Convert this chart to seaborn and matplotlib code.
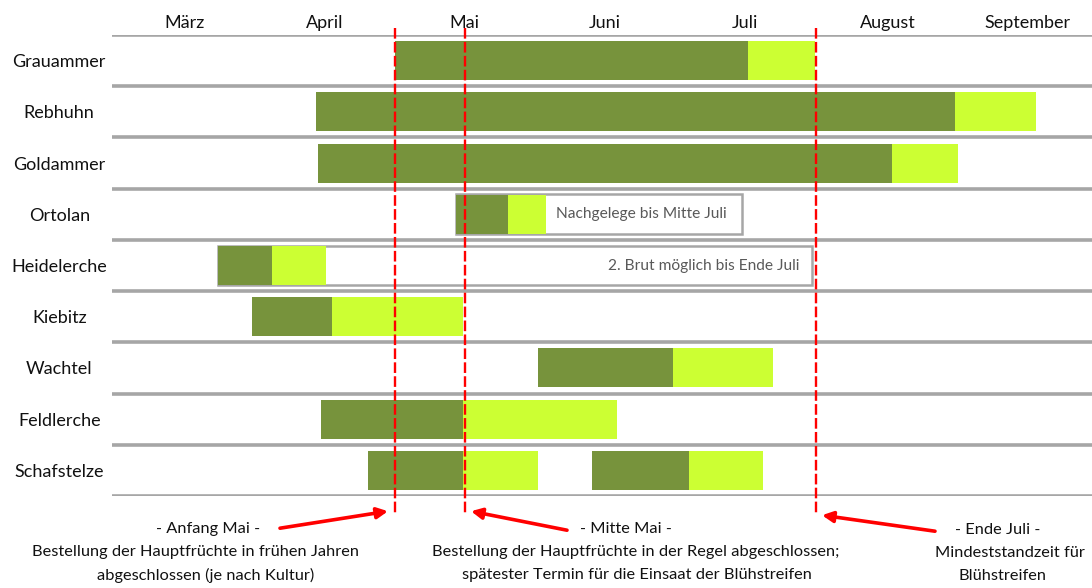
import matplotlib
matplotlib.use("Agg")
import matplotlib.pyplot as plt
import numpy as np
import seaborn as sns
from matplotlib.patches import Rectangle

sns.set_theme(style="white")
plt.rcParams["font.family"] = ["Lato", "DejaVu Sans"]

# ── Data (x in months, 0 = 1. März, 7 = 30. September) ───────────────────
birds = ["Grauammer", "Rebhuhn", "Goldammer", "Ortolan", "Heidelerche",
         "Kiebitz", "Wachtel", "Feldlerche", "Schafstelze"]
brut_start = [2.02, 1.46, 1.47, 2.46, 0.76, 1.00, 3.04, 1.49, 1.83]
brut_end = [4.54, 6.02, 5.57, 2.83, 1.14, 1.57, 4.01, 2.51, 2.51]
fuehrung_end = [5.02, 6.60, 6.04, 3.10, 1.53, 2.51, 4.72, 3.61, 3.04]

# second brood Schafstelze
second_row = "Schafstelze"
second_brood = [3.43, 4.12, 4.65]

# outlined boxes: bird, box end, label
box_rows = ["Ortolan", "Heidelerche"]
box_end = [4.50, 5.00]
box_text = ["Nachgelege bis Mitte Juli", "2. Brut möglich bis Ende Juli"]

months = ["März", "April", "Mai", "Juni", "Juli", "August", "September"]
month_pos = [0.52, 1.52, 2.52, 3.52, 4.52, 5.54, 6.54]

markers = [2.02, 2.52, 5.03]  # Anfang Mai, Mitte Mai, Ende Juli

DARK = "#77933C"
LIGHT = "#CCFF33"
GRID = "#A6A6A6"
TXT = "#111111"

W, H = 1092, 588
fig = plt.figure(figsize=(W / 100, H / 100), dpi=100)
ax = fig.add_axes([112 / W, 1 - 496 / H, 980 / W, 461 / H])

ypos = np.arange(len(birds))
bar_h = 0.76

# row separators
ax.hlines(np.arange(-0.5, len(birds)), 0, 7, color=GRID, lw=2.6, zorder=1)

# outlined boxes behind the bars
for name, end, txt in zip(box_rows, box_end, box_text):
    i = birds.index(name)
    ax.add_patch(Rectangle((brut_start[i], i - 0.39), end - brut_start[i], 0.78,
                           facecolor="white", edgecolor=GRID, lw=1.8, zorder=2))
    if name == "Ortolan":
        ax.text(fuehrung_end[i] + 0.075, i, txt, ha="left", va="center",
                fontsize=11.2, color="#595959", zorder=4)
    else:
        ax.text(end - 0.09, i, txt, ha="right", va="center",
                fontsize=11.2, color="#595959", zorder=4)

# bars
starts = np.array(brut_start)
mids = np.array(brut_end)
ends = np.array(fuehrung_end)
ax.barh(ypos, mids - starts, left=starts, height=bar_h, color=DARK, lw=0, zorder=3)
ax.barh(ypos, ends - mids, left=mids, height=bar_h, color=LIGHT, lw=0, zorder=3)
j = birds.index(second_row)
ax.barh(j, second_brood[1] - second_brood[0], left=second_brood[0], height=bar_h,
        color=DARK, lw=0, zorder=3)
ax.barh(j, second_brood[2] - second_brood[1], left=second_brood[1], height=bar_h,
        color=LIGHT, lw=0, zorder=3)

# dashed markers
for m in markers:
    ax.plot([m, m], [-0.64, 8.83], color="#FF0000", lw=1.7,
            ls=(0, (4.5, 1.4)), clip_on=False, zorder=5)

ax.set_xlim(0, 7)
ax.set_ylim(len(birds) - 0.5, -0.5)
ax.xaxis.tick_top()
ax.set_xticks(month_pos)
ax.set_xticklabels(months, fontsize=13, color=TXT)
ax.set_yticks(ypos)
ax.set_yticklabels(birds, fontsize=13, color=TXT)
for lab in ax.get_yticklabels():
    lab.set_horizontalalignment("center")
ax.tick_params(axis="y", length=0, pad=38)
ax.tick_params(axis="x", length=0, pad=3)
for s in ax.spines.values():
    s.set_visible(False)
ax.grid(False)


def px(x, y):
    return ((x - 112) / 140, (y - 35) / 51.2 - 0.5)


arrows = [((280, 528), (388, 511)), ((567, 530), (471, 511)), ((935, 531), (822, 515))]
for tail, head in arrows:
    ax.annotate("", xy=px(*head), xytext=px(*tail), xycoords="data",
                textcoords="data", annotation_clip=False,
                arrowprops=dict(arrowstyle="-|>", color="#FF0000", lw=2.6,
                                mutation_scale=16, shrinkA=0, shrinkB=0))

note_lines = [
    (208, 529, "- Anfang Mai -"),
    (196, 552, "Bestellung der Hauptfrüchte in frühen Jahren"),
    (206, 575, "abgeschlossen (je nach Kultur)"),
    (626, 529, "- Mitte Mai -"),
    (636, 552, "Bestellung der Hauptfrüchte in der Regel abgeschlossen;"),
    (637, 575, "spätester Termin für die Einsaat der Blühstreifen"),
    (998, 530, "- Ende Juli -"),
    (1010, 553, "Mindeststandzeit für"),
    (1002, 576, "Blühstreifen"),
]
for x, y, txt in note_lines:
    fig.text(x / W, 1 - y / H, txt, ha="center", va="center", fontsize=11.8,
             color=TXT)

fig.savefig("out.png", dpi=100)
